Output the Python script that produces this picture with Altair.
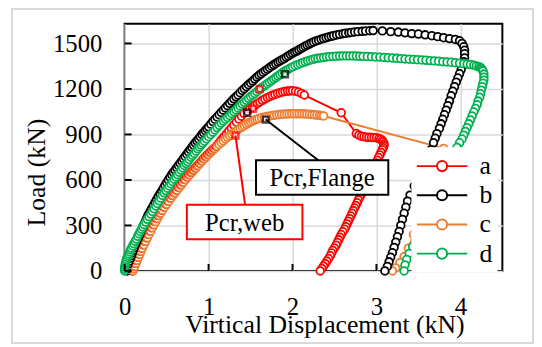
import altair as alt
import pandas as pd

# ---------------- data ----------------
series_names = ["a", "b", "c", "d"]
series_colors = ["#FF0000", "#000000", "#ED7D31", "#00B050"]

a_pts = [(0.09, 0), (0.10, 15), (0.11, 30), (0.125, 50), (0.14, 70), (0.155, 90), (0.17, 110),
         (0.185, 130), (0.20, 150), (0.22, 172), (0.24, 195), (0.26, 218), (0.28, 240), (0.30, 262),
         (0.32, 285), (0.34, 305), (0.36, 325), (0.38, 345), (0.40, 365), (0.42, 382), (0.44, 400),
         (0.465, 420), (0.49, 440), (0.515, 460), (0.54, 480), (0.565, 498), (0.59, 515),
         (0.615, 532), (0.64, 550), (0.665, 568), (0.69, 585), (0.715, 602), (0.74, 620),
         (0.765, 635), (0.79, 650), (0.815, 665), (0.84, 680), (0.865, 695), (0.89, 710),
         (0.915, 725), (0.94, 740), (0.965, 754), (0.99, 768), (1.015, 782), (1.04, 795),
         (1.065, 808), (1.09, 822), (1.12, 842), (1.15, 862), (1.18, 882), (1.21, 902),
         (1.24, 922), (1.27, 942), (1.30, 962), (1.33, 982), (1.36, 1002), (1.39, 1020),
         (1.42, 1038), (1.46, 1055), (1.49, 1068), (1.52, 1080), (1.55, 1092), (1.58, 1103),
         (1.61, 1114), (1.64, 1125), (1.67, 1134), (1.70, 1143), (1.73, 1151), (1.76, 1158),
         (1.79, 1164), (1.82, 1170), (1.85, 1175), (1.88, 1180), (1.91, 1183), (1.94, 1186),
         (1.97, 1187), (2.00, 1188), (2.035, 1185), (2.07, 1180), (2.105, 1171), (2.14, 1160),
         (2.58, 1043), (2.76, 906), (2.79, 895), (2.82, 888), (2.85, 885), (2.88, 882), (2.91, 881),
         (2.94, 880), (2.97, 879), (3.00, 878), (3.03, 873), (3.05, 868), (3.07, 860), (3.08, 850),
         (3.09, 838), (3.09, 825), (3.08, 812), (3.07, 800), (3.055, 782), (3.04, 765),
         (3.025, 748), (3.01, 730), (2.995, 712), (2.98, 695), (2.965, 678), (2.95, 660),
         (2.935, 642), (2.92, 625), (2.905, 608), (2.89, 590), (2.875, 572), (2.86, 555),
         (2.845, 538), (2.83, 520), (2.815, 502), (2.80, 485), (2.785, 468), (2.77, 450),
         (2.755, 432), (2.74, 415), (2.725, 398), (2.71, 380), (2.695, 362), (2.68, 345),
         (2.665, 328), (2.65, 310), (2.635, 292), (2.62, 275), (2.60, 258), (2.58, 240),
         (2.565, 222), (2.55, 205), (2.535, 188), (2.52, 170), (2.50, 152), (2.48, 135),
         (2.465, 118), (2.45, 100), (2.43, 82), (2.41, 65), (2.39, 48), (2.37, 32), (2.35, 16),
         (2.33, 0)]

b_pts = [(0.03, 0), (0.035, 15), (0.04, 30), (0.05, 48), (0.06, 65), (0.07, 83), (0.08, 100),
         (0.09, 118), (0.10, 135), (0.115, 155), (0.13, 175), (0.145, 195), (0.16, 215),
         (0.175, 235), (0.19, 255), (0.205, 275), (0.22, 295), (0.235, 312), (0.25, 330),
         (0.265, 350), (0.28, 370), (0.30, 390), (0.32, 410), (0.34, 430), (0.36, 450), (0.38, 470),
         (0.40, 490), (0.42, 508), (0.44, 525), (0.46, 545), (0.48, 565), (0.50, 583), (0.52, 600),
         (0.54, 618), (0.56, 635), (0.58, 650), (0.60, 665), (0.62, 680), (0.64, 695), (0.66, 710),
         (0.68, 725), (0.70, 740), (0.72, 755), (0.74, 770), (0.76, 785), (0.78, 800), (0.80, 815),
         (0.82, 830), (0.84, 845), (0.86, 858), (0.88, 870), (0.90, 885), (0.92, 900), (0.94, 912),
         (0.96, 925), (0.98, 938), (1.00, 950), (1.025, 968), (1.05, 985), (1.075, 1000),
         (1.10, 1015), (1.125, 1030), (1.15, 1045), (1.175, 1060), (1.20, 1075), (1.225, 1090),
         (1.25, 1105), (1.275, 1120), (1.30, 1135), (1.325, 1148), (1.35, 1160), (1.375, 1175),
         (1.40, 1190), (1.425, 1202), (1.45, 1215), (1.475, 1228), (1.50, 1240), (1.525, 1252),
         (1.55, 1265), (1.575, 1278), (1.60, 1290), (1.625, 1300), (1.65, 1310), (1.675, 1320),
         (1.70, 1330), (1.725, 1340), (1.75, 1350), (1.775, 1359), (1.80, 1368), (1.825, 1377),
         (1.85, 1385), (1.875, 1393), (1.90, 1400), (1.925, 1409), (1.95, 1418), (1.975, 1427),
         (2.00, 1435), (2.025, 1443), (2.05, 1450), (2.075, 1458), (2.10, 1466), (2.125, 1474),
         (2.15, 1482), (2.175, 1489), (2.20, 1496), (2.225, 1503), (2.25, 1510), (2.28, 1516),
         (2.31, 1522), (2.34, 1528), (2.37, 1533), (2.40, 1538), (2.43, 1543), (2.46, 1547),
         (2.49, 1551), (2.525, 1556), (2.56, 1560), (2.60, 1564), (2.63, 1567), (2.67, 1570),
         (2.70, 1573), (2.74, 1576), (2.78, 1578), (2.83, 1580), (2.87, 1582), (2.92, 1584),
         (2.96, 1585), (3.07, 1583), (3.17, 1578), (3.26, 1575), (3.34, 1570), (3.42, 1565),
         (3.50, 1562), (3.58, 1557), (3.66, 1551), (3.73, 1545), (3.80, 1538), (3.87, 1532),
         (3.94, 1526), (3.99, 1518), (4.02, 1500), (4.04, 1478), (4.05, 1455), (4.05, 1432),
         (4.05, 1405), (4.04, 1380), (4.03, 1355), (4.01, 1328), (3.99, 1300), (3.97, 1272),
         (3.95, 1245), (3.93, 1215), (3.91, 1185), (3.89, 1155), (3.87, 1120), (3.85, 1090),
         (3.83, 1060), (3.81, 1030), (3.79, 1000), (3.77, 970), (3.75, 940), (3.72, 905),
         (3.70, 875), (3.68, 845), (3.65, 800), (3.60, 740), (3.55, 680), (3.50, 620), (3.45, 560),
         (3.40, 500), (3.37, 460), (3.35, 420), (3.33, 380), (3.31, 340), (3.29, 300), (3.27, 260),
         (3.25, 225), (3.23, 190), (3.21, 155), (3.19, 120), (3.17, 90), (3.15, 60), (3.13, 30),
         (3.10, 0)]

c_pts = [(0.10, 0), (0.11, 15), (0.12, 30), (0.135, 50), (0.15, 70), (0.165, 90), (0.18, 110),
         (0.195, 130), (0.21, 150), (0.23, 172), (0.25, 195), (0.27, 218), (0.29, 240), (0.31, 262),
         (0.33, 285), (0.35, 305), (0.37, 325), (0.39, 345), (0.41, 365), (0.43, 382), (0.45, 400),
         (0.475, 420), (0.50, 440), (0.525, 460), (0.55, 480), (0.575, 498), (0.60, 515),
         (0.625, 532), (0.65, 550), (0.675, 568), (0.70, 585), (0.725, 602), (0.75, 620),
         (0.775, 635), (0.80, 650), (0.825, 665), (0.85, 680), (0.875, 695), (0.90, 710),
         (0.925, 725), (0.95, 740), (0.975, 754), (1.00, 768), (1.025, 782), (1.05, 795),
         (1.075, 808), (1.10, 822), (1.125, 834), (1.15, 846), (1.175, 858), (1.20, 870),
         (1.225, 881), (1.25, 892), (1.275, 902), (1.30, 912), (1.325, 922), (1.35, 932),
         (1.375, 941), (1.40, 950), (1.425, 958), (1.45, 967), (1.475, 975), (1.50, 982),
         (1.525, 989), (1.55, 995), (1.575, 1000), (1.60, 1005), (1.63, 1010), (1.66, 1014),
         (1.69, 1018), (1.72, 1021), (1.75, 1024), (1.78, 1027), (1.81, 1029), (1.84, 1031),
         (1.87, 1033), (1.90, 1034), (1.93, 1035), (1.96, 1036), (1.99, 1037), (2.02, 1037),
         (2.05, 1037), (2.08, 1037), (2.11, 1036), (2.14, 1036), (2.17, 1034), (2.20, 1033),
         (2.23, 1031), (2.26, 1030), (2.29, 1028), (2.32, 1026), (2.345, 1024), (2.37, 1022),
         (3.80, 808), (3.74, 720), (3.68, 620), (3.62, 520), (3.56, 420), (3.50, 330), (3.44, 240),
         (3.38, 150), (3.33, 95), (3.28, 55), (3.23, 20), (3.19, 0)]

d_pts = [(0.00, 0), (0.00, 12), (0.00, 25), (0.005, 38), (0.01, 50), (0.015, 62), (0.02, 75),
         (0.03, 88), (0.04, 100), (0.05, 112), (0.06, 125), (0.07, 138), (0.08, 150), (0.095, 165),
         (0.11, 180), (0.125, 195), (0.14, 210), (0.155, 228), (0.17, 245), (0.185, 260),
         (0.20, 275), (0.215, 290), (0.23, 305), (0.25, 322), (0.27, 340), (0.29, 358), (0.31, 375),
         (0.33, 392), (0.35, 410), (0.37, 428), (0.39, 445), (0.41, 462), (0.43, 480), (0.45, 498),
         (0.47, 515), (0.49, 530), (0.51, 545), (0.53, 560), (0.55, 575), (0.57, 590), (0.59, 605),
         (0.61, 620), (0.63, 635), (0.65, 650), (0.67, 665), (0.69, 680), (0.71, 695), (0.73, 708),
         (0.75, 720), (0.77, 735), (0.79, 750), (0.81, 762), (0.83, 775), (0.85, 790), (0.87, 805),
         (0.89, 818), (0.91, 830), (0.93, 842), (0.95, 855), (0.975, 870), (1.00, 885),
         (1.025, 900), (1.05, 915), (1.075, 930), (1.10, 945), (1.125, 960), (1.15, 975),
         (1.175, 988), (1.20, 1000), (1.225, 1012), (1.25, 1025), (1.275, 1038), (1.30, 1050),
         (1.325, 1062), (1.35, 1075), (1.375, 1088), (1.40, 1100), (1.425, 1112), (1.45, 1125),
         (1.475, 1138), (1.50, 1150), (1.525, 1160), (1.55, 1170), (1.575, 1182), (1.60, 1195),
         (1.625, 1205), (1.65, 1215), (1.675, 1225), (1.70, 1235), (1.725, 1245), (1.75, 1255),
         (1.775, 1265), (1.80, 1275), (1.825, 1285), (1.85, 1295), (1.875, 1305), (1.90, 1315),
         (1.925, 1322), (1.95, 1330), (1.975, 1338), (2.00, 1345), (2.03, 1353), (2.06, 1360),
         (2.09, 1367), (2.12, 1373), (2.15, 1379), (2.18, 1385), (2.21, 1390), (2.24, 1395),
         (2.27, 1399), (2.30, 1402), (2.335, 1405), (2.37, 1408), (2.405, 1411), (2.44, 1413),
         (2.48, 1415), (2.52, 1416), (2.56, 1417), (2.60, 1418), (2.64, 1418), (2.68, 1418),
         (2.72, 1418), (2.76, 1417), (2.80, 1416), (2.84, 1415), (2.89, 1414), (2.94, 1413),
         (2.99, 1411), (3.04, 1410), (3.09, 1408), (3.14, 1406), (3.19, 1404), (3.24, 1402),
         (3.29, 1400), (3.34, 1398), (3.39, 1396), (3.44, 1394), (3.49, 1393), (3.54, 1391),
         (3.59, 1389), (3.64, 1387), (3.69, 1385), (3.74, 1383), (3.79, 1380), (3.84, 1378),
         (3.89, 1376), (3.94, 1373), (3.99, 1370), (4.04, 1367), (4.08, 1364), (4.12, 1361),
         (4.16, 1357), (4.19, 1352), (4.22, 1347), (4.24, 1341), (4.25, 1335), (4.26, 1327),
         (4.27, 1318), (4.28, 1298), (4.28, 1278), (4.28, 1258), (4.27, 1238), (4.26, 1215),
         (4.25, 1192), (4.24, 1168), (4.23, 1145), (4.21, 1120), (4.20, 1096), (4.18, 1072),
         (4.16, 1048), (4.14, 1022), (4.12, 996), (4.10, 970), (4.08, 945), (4.06, 920),
         (4.04, 895), (4.02, 870), (3.99, 845), (3.96, 815), (3.90, 740), (3.84, 660), (3.78, 580),
         (3.72, 500), (3.66, 420), (3.60, 345), (3.54, 275), (3.48, 210), (3.43, 160), (3.39, 115),
         (3.36, 75), (3.34, 40), (3.33, 0)]

# Pcr points (squares)
web_x = [1.32, 1.53, 1.61]
web_y = [893, 1069, 1200]
flange_x = [1.46, 1.68, 1.91]
flange_y = [1043, 998, 1297]

# annotations: label, anchor square, leader end, box extents (data units)
ann_labels = ["Pcr,web", "Pcr,Flange"]
ann_colors = ["#FF0000", "#000000"]
ann_from_x = [1.32, 1.68]
ann_from_y = [893, 998]
ann_to_x = [1.435, 2.306]
ann_to_y = [437, 730]
ann_box_x1 = [0.741, 1.565]
ann_box_x2 = [2.118, 3.141]
ann_box_y1 = [209, 502]
ann_box_y2 = [437, 730]

x_ticks = [0, 1, 2, 3, 4]
y_ticks = [0, 300, 600, 900, 1200, 1500]

# ---------------- build tables ----------------
rows = []
for name, pts in zip(series_names, [a_pts, b_pts, c_pts, d_pts]):
    for i, (x, y) in enumerate(pts):
        rows.append({"series": name, "i": i, "x": x, "y": y})
df = pd.DataFrame(rows)

web_df = pd.DataFrame({"x": web_x, "y": web_y})
fl_df = pd.DataFrame({"x": flange_x, "y": flange_y})
ann_df = pd.DataFrame({
    "label": ann_labels, "color": ann_colors,
    "fx": ann_from_x, "fy": ann_from_y, "tx": ann_to_x, "ty": ann_to_y,
    "bx1": ann_box_x1, "bx2": ann_box_x2, "by1": ann_box_y1, "by2": ann_box_y2,
})
ann_df["cx"] = (ann_df["bx1"] + ann_df["bx2"]) / 2
ann_df["cy"] = (ann_df["by1"] + ann_df["by2"]) / 2

FONT = "Liberation Serif"
XT = "Virtical Displacement (kN)"
YT = "Load (kN)"
xscale = alt.Scale(domain=[0, 4.5], nice=False, zero=False)
yscale = alt.Scale(domain=[0, 1630], nice=False)

legend_symbol = "M-2,0H-0.4A0.4,0.4 0 1,1 0.4,0A0.4,0.4 0 1,1 -0.4,0M0.4,0H2"

x_axis = alt.Axis(
    values=x_ticks, format="d", title=XT, grid=True, gridColor="#D9D9D9",
    gridWidth=1.5, ticks=False, tickSize=0, domain=False, labelFont=FONT, labelFontSize=25,
    labelColor="black", labelPadding=24, labelFlush=False, titleFont=FONT, titleFontSize=26,
    titleFontWeight="normal", titleColor="black", titleX=202, titleY=62,
    titleAlign="center", titleBaseline="alphabetic")
y_axis = alt.Axis(
    values=y_ticks, format="d", title=YT, grid=True, gridColor="#D9D9D9", gridWidth=1.5,
    ticks=False, tickSize=0, domain=False, labelFont=FONT, labelFontSize=25,
    labelColor="black", labelPadding=23, labelFlush=False, titleFont=FONT, titleFontSize=26,
    titleFontWeight="normal", titleColor="black", titleAngle=270, titleX=-81, titleY=150,
    titleAlign="center", titleBaseline="alphabetic")

frame = alt.Chart(pd.DataFrame({"v": [0]})).mark_rect(
    fill="white", fillOpacity=0, stroke="#D9D9D9", strokeWidth=2
).encode(
    x=alt.value(-114), x2=alt.value(413), y=alt.value(-15), y2=alt.value(323)
)

axes_layer = alt.Chart(pd.DataFrame({"x": [0.0], "y": [0.0]})).mark_point(opacity=0).encode(
    x=alt.X("x:Q", scale=xscale, axis=x_axis),
    y=alt.Y("y:Q", scale=yscale, axis=y_axis),
)

lines = alt.Chart(df).mark_line(
    strokeWidth=2,
    point=alt.OverlayMarkDef(filled=False, fill="white", size=60, strokeWidth=1.8),
).encode(
    x=alt.X("x:Q", scale=xscale, title=XT),
    y=alt.Y("y:Q", scale=yscale, title=YT),
    color=alt.Color("series:N", scale=alt.Scale(domain=series_names, range=series_colors),
                    legend=alt.Legend(
                        title=None, orient="none", legendX=290, legendY=125, fillColor="white",
                        padding=5, symbolType=legend_symbol, symbolSize=650,
                        symbolStrokeWidth=2, symbolFillColor="white", symbolOffset=12,
                        labelOffset=24, labelFont=FONT, labelFontSize=26, labelColor="black",
                        rowPadding=2.5)),
    order=alt.Order("i:Q"),
)

sq_web = alt.Chart(web_df).mark_square(
    filled=False, fill="white", stroke="#FF0000", size=36, strokeWidth=2.5
).encode(x=alt.X("x:Q", scale=xscale, title=XT), y=alt.Y("y:Q", scale=yscale, title=YT))

sq_fl = alt.Chart(fl_df).mark_square(
    filled=False, fill="white", stroke="#000000", size=36, strokeWidth=2.5
).encode(x=alt.X("x:Q", scale=xscale, title=XT), y=alt.Y("y:Q", scale=yscale, title=YT))

leaders = alt.Chart(ann_df).mark_rule(strokeWidth=2).encode(
    x=alt.X("fx:Q", scale=xscale, title=XT), y=alt.Y("fy:Q", scale=yscale, title=YT),
    x2="tx:Q", y2="ty:Q", stroke=alt.Stroke("color:N", scale=None),
)

boxes = alt.Chart(ann_df).mark_rect(fill="white", strokeWidth=2).encode(
    x=alt.X("bx1:Q", scale=xscale, title=XT), x2="bx2:Q",
    y=alt.Y("by1:Q", scale=yscale, title=YT), y2="by2:Q",
    stroke=alt.Stroke("color:N", scale=None),
)

texts = alt.Chart(ann_df).mark_text(font=FONT, fontSize=25, color="black", baseline="middle",
                                    align="center", dy=1).encode(
    x=alt.X("cx:Q", scale=xscale, title=XT), y=alt.Y("cy:Q", scale=yscale, title=YT),
    text="label:N",
)

ytick_df = pd.DataFrame({"v": y_ticks})
xtick_df = pd.DataFrame({"v": x_ticks})
yticks = alt.Chart(ytick_df).mark_rule(color="black", strokeWidth=2).encode(
    y=alt.Y("v:Q", scale=yscale, title=YT), x=alt.value(0), x2=alt.value(7))
xticks = alt.Chart(xtick_df).mark_rule(color="black", strokeWidth=2).encode(
    x=alt.X("v:Q", scale=xscale, title=XT), y=alt.value(250), y2=alt.value(243))

chart = alt.layer(
    frame, axes_layer, lines, sq_web, sq_fl, leaders, boxes, texts, yticks, xticks
).properties(
    width=382, height=250,
    padding={"left": 118, "top": 14, "right": 32, "bottom": 74},
    autosize=alt.AutoSizeParams(type="none"),
    background="white",
).configure_view(stroke="black", strokeWidth=2)

chart.save("out.html", embed_options={"renderer": "svg", "actions": False})
